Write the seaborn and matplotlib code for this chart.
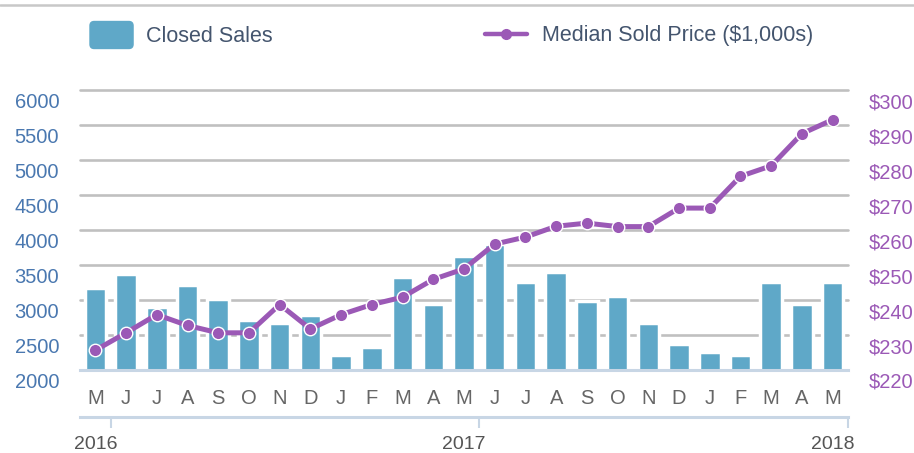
import numpy as np
import pandas as pd
import matplotlib
matplotlib.use('Agg')
import matplotlib.pyplot as plt
import seaborn as sns
from matplotlib.lines import Line2D
from matplotlib.patches import Patch, FancyBboxPatch
from matplotlib.legend_handler import HandlerPatch
from matplotlib.transforms import ScaledTranslation

# data
periods = ['2016-05', '2016-06', '2016-07', '2016-08', '2016-09', '2016-10', '2016-11', '2016-12',
           '2017-01', '2017-02', '2017-03', '2017-04', '2017-05', '2017-06', '2017-07', '2017-08',
           '2017-09', '2017-10', '2017-11', '2017-12', '2018-01', '2018-02', '2018-03', '2018-04',
           '2018-05']
month_labels = ['M', 'J', 'J', 'A', 'S', 'O', 'N', 'D', 'J', 'F', 'M', 'A', 'M',
                'J', 'J', 'A', 'S', 'O', 'N', 'D', 'J', 'F', 'M', 'A', 'M']
closed_sales = [3170, 3360, 2900, 3210, 3015, 2715, 2670, 2785, 2210, 2325, 3320, 2940, 3625,
                3790, 3250, 3400, 2980, 3055, 2670, 2360, 2250, 2210, 3250, 2940, 3250]
median_price = [225.5, 230.5, 235.7, 232.6, 230.5, 230.5, 238.6, 231.6, 235.7, 238.6, 240.7, 245.8,
                248.8, 255.9, 257.9, 261.0, 261.9, 260.9, 260.9, 266.2, 266.2, 275.3, 278.3, 287.5,
                291.5]
sales_ticks = [2000, 2500, 3000, 3500, 4000, 4500, 5000, 5500, 6000]
price_ticks = [220, 230, 240, 250, 260, 270, 280, 290, 300]

BAR = '#5fa8c8'
PURPLE = '#9b59b6'
LEFT_TXT = '#4a78b0'
AXIS_BLUE = '#c8d6e5'
GRID = '#c0c0c0'
GRAY_TXT = '#666666'
LEGEND_TXT = '#44556e'

sns.set_style('white')
plt.rcParams['font.family'] = ['Liberation Sans', 'DejaVu Sans']

df = pd.DataFrame({'period': periods, 'idx': np.arange(len(periods)),
                   'closed_sales': closed_sales, 'median_price': median_price})

fig = plt.figure(figsize=(9.14, 4.53), dpi=100)
ax = fig.add_axes([80 / 914, 1 - 369.5 / 453, 768 / 914, 279.5 / 453])

sns.barplot(data=df, x='period', y='closed_sales', color=BAR, saturation=1, width=0.7,
            edgecolor='white', linewidth=2.5, ax=ax)
ax.set_ylim(2000, 6000)
ax.set_xlim(-0.5, len(periods) - 0.5)
ax.set_axisbelow(True)
ax.set_yticks(sales_ticks, [str(v) for v in sales_ticks])
ax.yaxis.grid(True, color=GRID, lw=1.9)
for gl in ax.get_ygridlines():
    gl.set_clip_on(False)
ax.set_xlabel('')
ax.set_ylabel('')
for s in ['top', 'left', 'right']:
    ax.spines[s].set_visible(False)
ax.spines['bottom'].set_color(AXIS_BLUE)
ax.spines['bottom'].set_linewidth(2.2)

# month letters under each bar, separator ticks between bars
ax.set_xticks(df['idx'], month_labels)
ax.set_xticks(df['idx'] + 0.5, minor=True)
ax.tick_params(axis='x', which='major', length=0, pad=14, labelsize=14.5, labelcolor=GRAY_TXT)
ax.tick_params(axis='x', which='minor', length=8, width=1.5, color=AXIS_BLUE, direction='out')
ax.tick_params(axis='y', length=0, pad=15, labelsize=14.5, labelcolor=LEFT_TXT)

# price line on the right axis
ax2 = ax.twinx()
sns.lineplot(data=df, x='idx', y='median_price', ax=ax2, color=PURPLE, lw=3.6, marker='o',
             markersize=9, markeredgecolor='white', markeredgewidth=1.0, legend=False)
ax2.set_ylim(220, 300)
ax2.set_xlim(-0.5, len(periods) - 0.5)
ax2.set_yticks(price_ticks, [f'${v}' for v in price_ticks])
ax2.tick_params(axis='y', length=0, pad=15, labelsize=14.5, labelcolor=PURPLE)
ax2.set_xlabel('')
ax2.set_ylabel('')
for s in ax2.spines.values():
    s.set_visible(False)

# tick labels sit a little below their gridlines
shift = ScaledTranslation(0, -0.11, fig.dpi_scale_trans)
for lab in ax.get_yticklabels() + ax2.get_yticklabels():
    lab.set_transform(lab.get_transform() + shift)

# year axis below the months
may_idx = [i for i, p in enumerate(periods) if p.endswith('-05')]
sec = ax.secondary_xaxis(-47.2 / 279.5)
sec.set_xticks([i + 0.5 for i in may_idx], [''] * len(may_idx))
sec.set_xticks(may_idx, [periods[i][:4] for i in may_idx], minor=True)
sec.tick_params(which='major', length=8, width=1.5, color=AXIS_BLUE, direction='out')
sec.tick_params(which='minor', length=0, pad=14, labelsize=14, labelcolor='#555555')
sec.spines['bottom'].set_color(AXIS_BLUE)
sec.spines['bottom'].set_linewidth(2.2)

# top rule
fig.add_artist(Line2D([0, 1], [1 - 4.5 / 453] * 2, transform=fig.transFigure,
                      color='#c8c8c8', lw=1.8))


# legend
def rounded_box(legend, orig_handle, xdescent, ydescent, width, height, fontsize):
    return FancyBboxPatch((-xdescent, -ydescent), width, height,
                          boxstyle='round,pad=0,rounding_size=3')


fig.legend(handles=[Patch(facecolor=BAR, edgecolor=BAR, label='Closed Sales')],
           handler_map={Patch: HandlerPatch(patch_func=rounded_box)},
           loc='center left', bbox_to_anchor=(90 / 914, 1 - 35 / 453), frameon=False,
           fontsize=15.5, labelcolor=LEGEND_TXT, handlelength=2.0, handleheight=1.55,
           handletextpad=0.6, borderpad=0, borderaxespad=0)
fig.legend(handles=[Line2D([], [], color=PURPLE, lw=3.2, marker='o', markersize=7,
                           label='Median Sold Price ($1,000s)')],
           loc='center left', bbox_to_anchor=(485 / 914, 1 - 36 / 453), frameon=False,
           fontsize=15.5, labelcolor=LEGEND_TXT, handlelength=1.95, handletextpad=0.68,
           borderpad=0, borderaxespad=0)

fig.savefig('out.png', dpi=100)
